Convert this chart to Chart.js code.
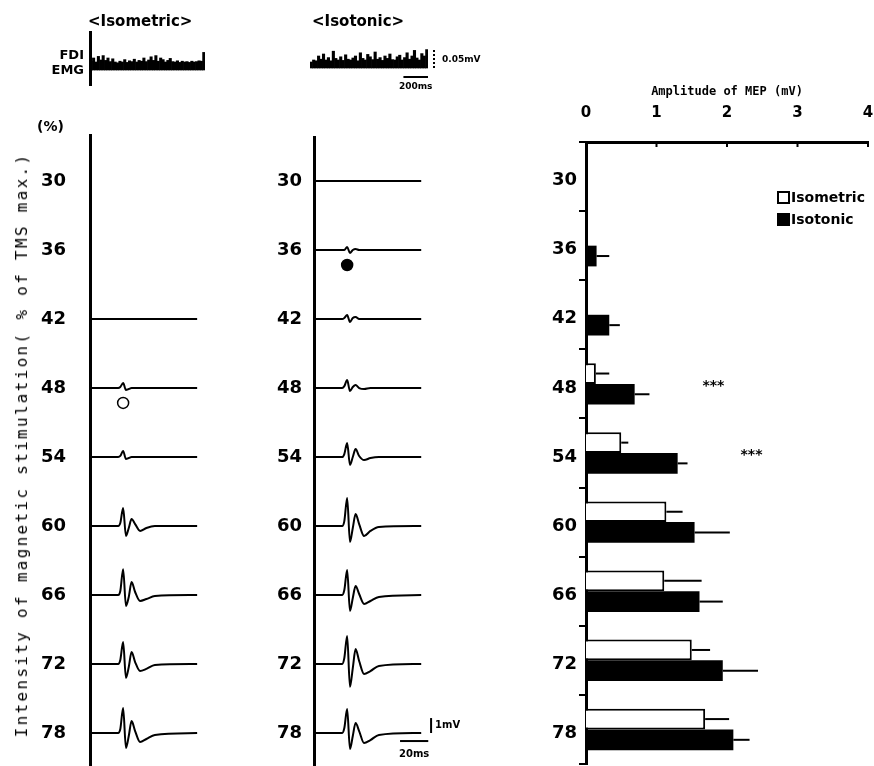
<!DOCTYPE html>
<html>
<head>
<meta charset="utf-8">
<script src="https://cdn.jsdelivr.net/npm/chart.js@4.4.1/dist/chart.umd.min.js"></script>
<style>
body { margin: 0; background: #fff; }
#wrap { position: relative; width: 874px; height: 766px; overflow: hidden; font-family: "DejaVu Sans", sans-serif; color: #000; }
canvas { position: absolute; }
.t { position: absolute; font-weight: bold; white-space: nowrap; line-height: 1; }
.box { position: absolute; width: 9px; height: 9px; border: 2px solid #000; }
</style>
</head>
<body>
<div id="wrap">
  <canvas id="meta" width="240" height="766" style="left:0;top:0"></canvas>
  <canvas id="metb" width="220" height="766" style="left:240px;top:0"></canvas>
  <canvas id="bars" width="414" height="766" style="left:460px;top:0"></canvas>
  <canvas id="emga" width="130" height="62" style="left:80px;top:28px"></canvas>
  <canvas id="emgb" width="200" height="70" style="left:300px;top:28px"></canvas>

  <div class="t" style="left:88px;top:14px;font-size:15px">&lt;Isometric&gt;</div>
  <div class="t" style="left:312px;top:14px;font-size:15px">&lt;Isotonic&gt;</div>
  <div class="t" style="left:40px;width:44px;text-align:right;top:48px;font-size:13px">FDI</div>
  <div class="t" style="left:40px;width:44px;text-align:right;top:63px;font-size:13px">EMG</div>
  <div class="t" style="left:37px;top:119px;font-size:14px">(%)</div>
  <div class="t" style="left:22px;top:445px;font-family:'DejaVu Sans Mono',monospace;font-weight:normal;font-size:16px;letter-spacing:2.3px;transform:translate(-50%,-50%) rotate(-90deg)">Intensity of magnetic stimulation( % of TMS max.)</div>

  <div class="box" style="left:777px;top:191px;background:#fff"></div>
  <div class="t" style="left:791px;top:190px;font-size:14px">Isometric</div>
  <div class="box" style="left:777px;top:213px;background:#000"></div>
  <div class="t" style="left:791px;top:212px;font-size:14px">Isotonic</div>
</div>
<script>
// stimulation intensities (% of TMS max)
const intensities = [30, 36, 42, 48, 54, 60, 66, 72, 78];

// MEP amplitude (mV), mean and error
const isometricAmp = [null, null, null, 0.14, 0.5, 1.14, 1.11, 1.5, 1.69];
const isometricErr = [null, null, null, 0.19, 0.1, 0.23, 0.53, 0.26, 0.34];
const isotonicAmp = [null, 0.15, 0.33, 0.69, 1.3, 1.54, 1.61, 1.94, 2.09];
const isotonicErr = [null, 0.18, 0.15, 0.21, 0.14, 0.5, 0.33, 0.5, 0.23];
const significance = ['', '', '', '***', '***', '', '', '', ''];

// MEP sweeps: time (ms) and voltage (mV) per intensity
const mepMs = [0, 20, 21.5, 23.5, 25.5, 27.5, 29.5, 32, 35.5, 40, 46, 76];
const isometricLevels = [42, 48, 54, 60, 66, 72, 78];
const isometricMv = [
  [0, 0, 0, 0, 0, 0, 0, 0, 0, 0, 0, 0],
  [0, 0, 0.07, 0.33, -0.13, -0.07, 0, 0, 0, 0, 0, 0],
  [0, 0, 0.07, 0.4, -0.13, -0.07, 0, 0, 0, 0, 0, 0],
  [0, 0, 0.2, 1.2, -0.67, -0.13, 0.47, 0.13, -0.33, -0.13, 0, 0],
  [0, 0, 0.27, 1.73, -0.73, -0.13, 0.87, 0.2, -0.4, -0.27, -0.07, 0],
  [0, 0, 0.27, 1.47, -0.93, -0.2, 0.8, 0.13, -0.47, -0.33, -0.07, 0],
  [0, 0, 0.27, 1.67, -1.0, -0.2, 0.8, 0.13, -0.6, -0.4, -0.13, 0]
];
const isotonicLevels = [30, 36, 42, 48, 54, 60, 66, 72, 78];
const isotonicMv = [
  [0, 0, 0, 0, 0, 0, 0, 0, 0, 0, 0, 0],
  [0, 0, 0, 0.2, -0.2, 0, 0.07, 0, 0, 0, 0, 0],
  [0, 0, 0.07, 0.27, -0.2, 0.07, 0.13, 0, 0, 0, 0, 0],
  [0, 0, 0.13, 0.53, -0.2, 0.07, 0.2, 0, -0.07, 0, 0, 0],
  [0, 0, 0.2, 0.93, -0.53, 0, 0.53, 0.07, -0.2, -0.07, 0, 0],
  [0, 0, 0.33, 1.87, -1.07, -0.13, 0.8, 0.13, -0.67, -0.33, -0.07, 0],
  [0, 0, 0.33, 1.67, -1.07, -0.2, 0.6, 0.07, -0.6, -0.4, -0.13, 0],
  [0, 0, 0.4, 1.87, -1.53, -0.27, 1.0, 0.2, -0.67, -0.47, -0.13, 0],
  [0, 0, 0.33, 1.6, -1.07, -0.2, 0.67, 0.13, -0.67, -0.47, -0.13, 0]
];
// motor threshold marks
const isometricThreshold = 48;
const isotonicThreshold = 36;

// background FDI EMG (rectified, mV per 20 ms bin)
const emgIsometric = [0.022, 0.03, 0.02, 0.034, 0.025, 0.036, 0.024, 0.03, 0.021, 0.028, 0.02, 0.018, 0.022, 0.02, 0.026, 0.019, 0.023, 0.021, 0.027, 0.02, 0.024, 0.022, 0.03, 0.021, 0.025, 0.033, 0.024, 0.036, 0.022, 0.03, 0.026, 0.02, 0.024, 0.029, 0.021, 0.02, 0.023, 0.019, 0.022, 0.02, 0.021, 0.019, 0.022, 0.02, 0.021, 0.023, 0.022, 0.044];
const emgIsotonic = [0.015, 0.02, 0.018, 0.03, 0.022, 0.035, 0.02, 0.026, 0.018, 0.042, 0.024, 0.02, 0.028, 0.019, 0.033, 0.022, 0.02, 0.025, 0.03, 0.018, 0.038, 0.024, 0.02, 0.034, 0.028, 0.021, 0.04, 0.022, 0.026, 0.019, 0.03, 0.024, 0.035, 0.021, 0.02, 0.028, 0.032, 0.02, 0.026, 0.038, 0.022, 0.03, 0.044, 0.025, 0.02, 0.036, 0.03, 0.046];
const emgBinMs = 20;

Chart.defaults.font.family = '"DejaVu Sans", sans-serif';
Chart.defaults.color = '#000';

const GAIN = 1.3; // intensity units per mV on the sweep panels

// keep the axis box at a fixed size, no extra label padding
const fixBox = (w, h) => s => {
  if (w != null) s.width = w;
  if (h != null) s.height = h;
  s.paddingTop = s.paddingBottom = s.paddingLeft = s.paddingRight = 0;
};

function sweepChart(id, levels, mv, threshold, filled, axisW, padTop, yMin, labelPad, xMax, extra) {
  const datasets = levels.map((lv, k) => ({
    data: mepMs.map((t, i) => ({ x: t, y: lv - mv[k][i] * GAIN })),
    borderColor: '#000', borderWidth: 2, pointRadius: 0,
    cubicInterpolationMode: 'monotone', fill: false
  }));
  datasets.push({
    data: [{ x: mepMs[3], y: threshold + 1.3 }],
    showLine: false, pointRadius: 5.5, pointBorderWidth: 1.5,
    pointBorderColor: '#000', pointBackgroundColor: filled ? '#000' : '#fff'
  });
  return new Chart(document.getElementById(id), {
    type: 'line',
    data: { datasets },
    options: {
      responsive: false, animation: false,
      layout: { autoPadding: false, padding: { top: padTop, bottom: 0, left: 0, right: 0 } },
      plugins: { legend: { display: false }, tooltip: { enabled: false } },
      scales: {
        x: { type: 'linear', min: 0, max: xMax, display: false },
        y: {
          type: 'linear', reverse: true, min: yMin, max: 80.87,
          afterBuildTicks: s => { s.ticks = intensities.map(v => ({ value: v })); },
          afterFit: fixBox(axisW, null),
          grid: { display: false, drawTicks: false },
          border: { display: true, color: '#000', width: 3 },
          ticks: { font: { size: 18, weight: 'bold' }, padding: labelPad, color: '#000' }
        }
      }
    },
    plugins: extra ? [extra] : []
  });
}

sweepChart('meta', isometricLevels, isometricMv, isometricThreshold, false, 90, 135, 26.0, 24, 106.4);

const mepScaleBars = {
  id: 'mepScaleBars',
  afterDraw(chart) {
    const { ctx, scales: { x, y } } = chart;
    ctx.save();
    ctx.strokeStyle = '#000';
    ctx.lineWidth = 2;
    const yb = y.getPixelForValue(78.7);
    ctx.beginPath();
    ctx.moveTo(x.getPixelForValue(61), yb);
    ctx.lineTo(x.getPixelForValue(81), yb);
    ctx.stroke();
    const xv = x.getPixelForValue(83);
    ctx.beginPath();
    ctx.moveTo(xv, y.getPixelForValue(76.7));
    ctx.lineTo(xv, y.getPixelForValue(76.7 + GAIN));
    ctx.stroke();
    ctx.fillStyle = '#000';
    ctx.font = 'bold 10px "DejaVu Sans"';
    ctx.textBaseline = 'middle';
    ctx.textAlign = 'center';
    ctx.fillText('20ms', x.getPixelForValue(71), yb + 13);
    ctx.textAlign = 'left';
    ctx.fillText('1mV', xv + 4, y.getPixelForValue(76.7 + GAIN / 2));
    ctx.restore();
  }
};
sweepChart('metb', isotonicLevels, isotonicMv, isotonicThreshold, true, 74, 137, 26.17, 12, 103.5, mepScaleBars);

// amplitude bar chart
const errorBars = {
  id: 'errorBars',
  afterDatasetsDraw(chart) {
    const { ctx, chartArea: a, scales: { x, y } } = chart;
    const errs = [isometricErr, isotonicErr];
    ctx.save();
    ctx.strokeStyle = '#000';
    ctx.lineWidth = 2;
    chart.data.datasets.forEach((ds, i) => {
      chart.getDatasetMeta(i).data.forEach((bar, j) => {
        const v = ds.data[j];
        if (v == null) return;
        ctx.beginPath();
        ctx.moveTo(bar.x, bar.y);
        ctx.lineTo(x.getPixelForValue(v + errs[i][j]), bar.y);
        ctx.stroke();
      });
    });
    // short marks hanging under the top amplitude axis
    x.ticks.forEach(t => {
      if (t.value === 0) return;
      const px = x.getPixelForValue(t.value);
      ctx.beginPath();
      ctx.moveTo(px, a.top);
      ctx.lineTo(px, a.top + 5);
      ctx.stroke();
    });
    ctx.fillStyle = '#000';
    ctx.font = 'bold 14px "DejaVu Sans"';
    ctx.textAlign = 'center';
    ctx.textBaseline = 'middle';
    significance.forEach((s, j) => {
      if (!s) return;
      const end = x.getPixelForValue(isotonicAmp[j] + isotonicErr[j]);
      ctx.fillText(s, end + 64, y.getPixelForValue(j) + 2);
    });
    ctx.restore();
  }
};

new Chart(document.getElementById('bars'), {
  type: 'bar',
  data: {
    labels: intensities.map(String),
    datasets: [
      { label: 'Isometric', data: isometricAmp, backgroundColor: '#fff', borderColor: '#000', borderWidth: 2 },
      { label: 'Isotonic', data: isotonicAmp, backgroundColor: '#000', borderColor: '#000', borderWidth: 0 }
    ]
  },
  options: {
    indexAxis: 'y', responsive: false, animation: false,
    datasets: { bar: { categoryPercentage: 0.6, barPercentage: 1 } },
    layout: { autoPadding: false, padding: { top: 80, right: 6, bottom: 2, left: 0 } },
    plugins: { legend: { display: false }, tooltip: { enabled: false } },
    scales: {
      x: {
        position: 'top', min: 0, max: 4,
        ticks: { stepSize: 1, font: { size: 15, weight: 'bold' }, padding: 20, color: '#000' },
        grid: { display: false, drawTicks: false },
        border: { display: true, color: '#000', width: 3 },
        title: { display: true, text: 'Amplitude of MEP (mV)', color: '#000', font: { family: '"DejaVu Sans Mono", monospace', size: 12, weight: 'bold' }, padding: { top: 5, bottom: 0 } },
        afterFit: fixBox(null, 62)
      },
      y: {
        ticks: { font: { size: 18, weight: 'bold' }, padding: 2, labelOffset: 4, color: '#000' },
        grid: { display: true, drawOnChartArea: false, drawTicks: true, tickLength: 7, offset: true, color: '#000', lineWidth: 2 },
        border: { display: true, color: '#000', width: 3 },
        afterFit: fixBox(126, null)
      }
    }
  },
  plugins: [errorBars]
});

// background EMG strips
function emgChart(id, values, axisLine, yMin, yMax, pad, extra) {
  return new Chart(document.getElementById(id), {
    type: 'bar',
    data: {
      labels: values.map((v, i) => i),
      datasets: [{ data: values, backgroundColor: '#000', borderWidth: 0, barPercentage: 1, categoryPercentage: 1 }]
    },
    options: {
      responsive: false, animation: false,
      layout: { autoPadding: false, padding: pad },
      plugins: { legend: { display: false }, tooltip: { enabled: false } },
      scales: {
        x: { display: false },
        y: {
          min: yMin, max: yMax,
          ticks: { display: false },
          grid: { display: false, drawTicks: false },
          border: { display: axisLine, color: '#000', width: 3 },
          afterFit: fixBox(10, null)
        }
      }
    },
    plugins: extra ? [extra] : []
  });
}

emgChart('emga', emgIsometric, true, -0.0375, 0.095, { top: 4, bottom: 5, left: 0, right: 5 });

const emgScaleBars = {
  id: 'emgScaleBars',
  afterDraw(chart) {
    const { ctx, chartArea: a, scales: { x, y } } = chart;
    const pxPerBin = x.getPixelForValue(1) - x.getPixelForValue(0);
    const len = 200 / emgBinMs * pxPerBin;
    ctx.save();
    ctx.strokeStyle = '#000';
    ctx.lineWidth = 2;
    ctx.setLineDash([2, 2]);
    ctx.beginPath();
    ctx.moveTo(a.right + 6, y.getPixelForValue(0));
    ctx.lineTo(a.right + 6, y.getPixelForValue(0.05));
    ctx.stroke();
    ctx.setLineDash([]);
    const yb = y.getPixelForValue(-0.0225);
    ctx.beginPath();
    ctx.moveTo(a.right - len, yb);
    ctx.lineTo(a.right, yb);
    ctx.stroke();
    ctx.fillStyle = '#000';
    ctx.font = 'bold 9px "DejaVu Sans"';
    ctx.textBaseline = 'middle';
    ctx.textAlign = 'left';
    ctx.fillText('0.05mV', a.right + 14, y.getPixelForValue(0.02));
    ctx.textAlign = 'center';
    ctx.fillText('200ms', a.right - len / 2, yb + 10);
    ctx.restore();
  }
};
emgChart('emgb', emgIsotonic, false, -0.0425, 0.09, { top: 4, bottom: 13, left: 0, right: 72 }, emgScaleBars);
</script>
</body>
</html>
